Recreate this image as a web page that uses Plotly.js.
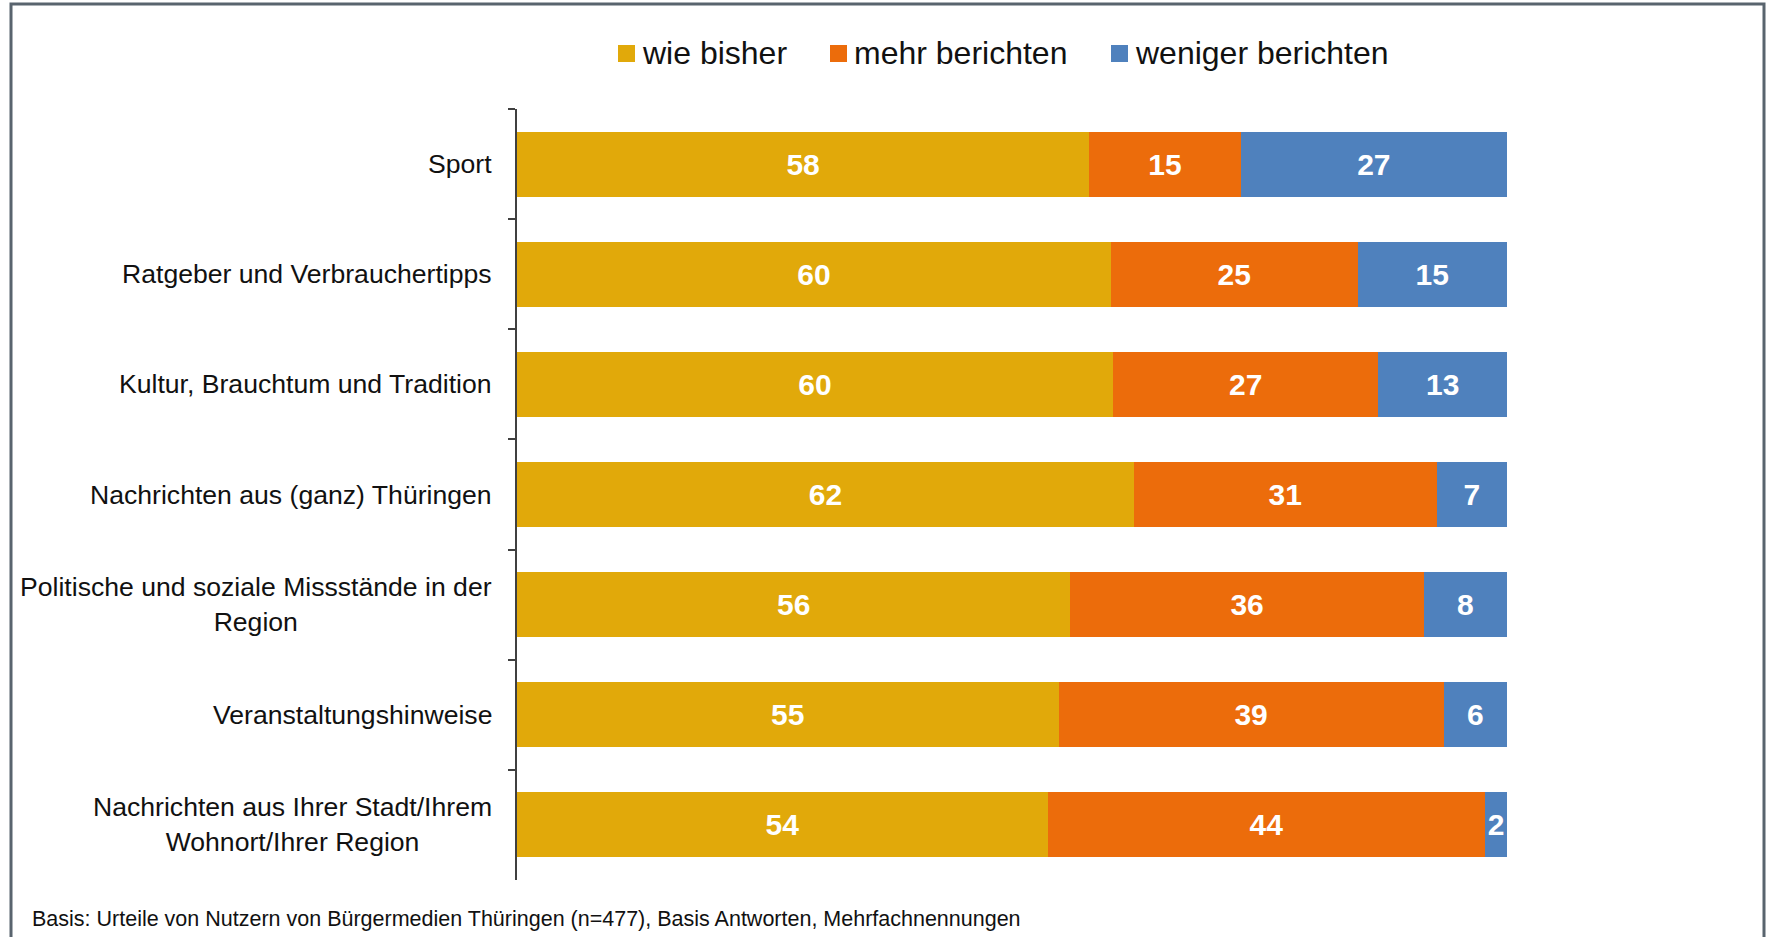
<!DOCTYPE html>
<html>
<head>
<meta charset="utf-8">
<script src="https://cdn.plot.ly/plotly-3.0.1.min.js"></script>
<style>
html,body{margin:0;padding:0;background:#fff;}
#chart{width:1768px;height:937px;}
</style>
</head>
<body>
<div id="chart"></div>
<script>
// Categories (top to bottom)
const categories = [
  "Sport",
  "Ratgeber und Verbrauchertipps",
  "Kultur, Brauchtum und Tradition",
  "Nachrichten aus (ganz) Thüringen",
  "Politische und soziale Missstände in der<br>Region",
  "Veranstaltungshinweise",
  "Nachrichten aus Ihrer Stadt/Ihrem<br>Wohnort/Ihrer Region"
];
// Series values (percent)
const wieBisher = [57.8, 60.0, 60.2, 62.3, 55.9, 54.7, 53.6];
const mehrBerichten = [15.3, 24.9, 26.8, 30.6, 35.7, 38.9, 44.2];
const wenigerBerichten = [26.9, 15.1, 13.0, 7.1, 8.4, 6.4, 2.2];
const seriesNames = ["wie bisher", "mehr berichten", "weniger berichten"];
const seriesColors = ["#E1A90A", "#EC6C0B", "#4F81BD"];
const footnote = "Basis: Urteile von Nutzern von Bürgermedien Thüringen (n=477), Basis Antworten, Mehrfachnennungen";

// Layout helpers (pixel positions of legend entries)
const legendSymbolX = [618, 830, 1111];

const FONT = "'Liberation Sans', Arial, sans-serif";

const seriesValues = [wieBisher, mehrBerichten, wenigerBerichten];
const traces = seriesValues.map((vals, i) => ({
  type: "bar",
  orientation: "h",
  name: seriesNames[i],
  y: categories,
  x: vals,
  marker: {color: seriesColors[i], line: {width: 0}},
  texttemplate: "%{x:.0f}",
  textposition: "inside",
  insidetextanchor: "middle",
  constraintext: "none",
  textfont: {family: FONT, size: 30, color: "#ffffff", weight: "bold"},
  hoverinfo: "skip"
}));

// Plot area in pixels
const L = 517, R = 1507, T = 109, B = 880;
const W = R - L, H = B - T;
const px = x => (x - L) / W;
const py = y => (B - y) / H;

const annotations = categories.map(c => ({
  xref: "paper", yref: "y",
  x: px(494), y: c,
  xanchor: "right", yanchor: "middle",
  align: "center",
  text: c,
  showarrow: false,
  font: {family: FONT, size: 26.6, color: "#111111"}
}));
annotations.push({
  xref: "paper", yref: "paper",
  x: px(30), y: py(919),
  xanchor: "left", yanchor: "middle",
  text: footnote,
  showarrow: false,
  font: {family: FONT, size: 21.5, color: "#111111"}
});

const shapes = [{
  type: "rect", xref: "paper", yref: "paper",
  x0: px(11), x1: px(1764), y0: py(945), y1: py(4),
  line: {color: "#59646E", width: 3},
  fillcolor: "rgba(0,0,0,0)",
  layer: "above"
}];

// Custom legend (larger square markers like the original)
seriesNames.forEach((name, i) => {
  const sx = legendSymbolX[i];
  shapes.push({
    type: "rect", xref: "paper", yref: "paper",
    x0: px(sx), x1: px(sx + 17), y0: py(62), y1: py(45),
    line: {width: 0}, fillcolor: seriesColors[i]
  });
  annotations.push({
    xref: "paper", yref: "paper",
    x: px(sx + 22), y: py(53),
    xanchor: "left", yanchor: "middle",
    text: name, showarrow: false,
    font: {family: FONT, size: 32, color: "#111111"}
  });
});

const layout = {
  width: 1768, height: 937,
  margin: {l: L, r: 1768 - R, t: T, b: 937 - B, pad: 0},
  paper_bgcolor: "#ffffff",
  plot_bgcolor: "#ffffff",
  barmode: "stack",
  bargap: 0.41,
  showlegend: false,
  xaxis: {
    range: [0, 100],
    visible: false,
    fixedrange: true
  },
  yaxis: {
    type: "category",
    autorange: "reversed",
    showline: true,
    linecolor: "#404040",
    linewidth: 2,
    ticks: "outside",
    tickson: "boundaries",
    ticklen: 7,
    tickwidth: 2,
    tickcolor: "#404040",
    showticklabels: false,
    showgrid: false,
    zeroline: false,
    fixedrange: true
  },
  annotations: annotations,
  shapes: shapes
};

Plotly.newPlot("chart", traces, layout, {displayModeBar: false, staticPlot: true});
</script>
</body>
</html>
